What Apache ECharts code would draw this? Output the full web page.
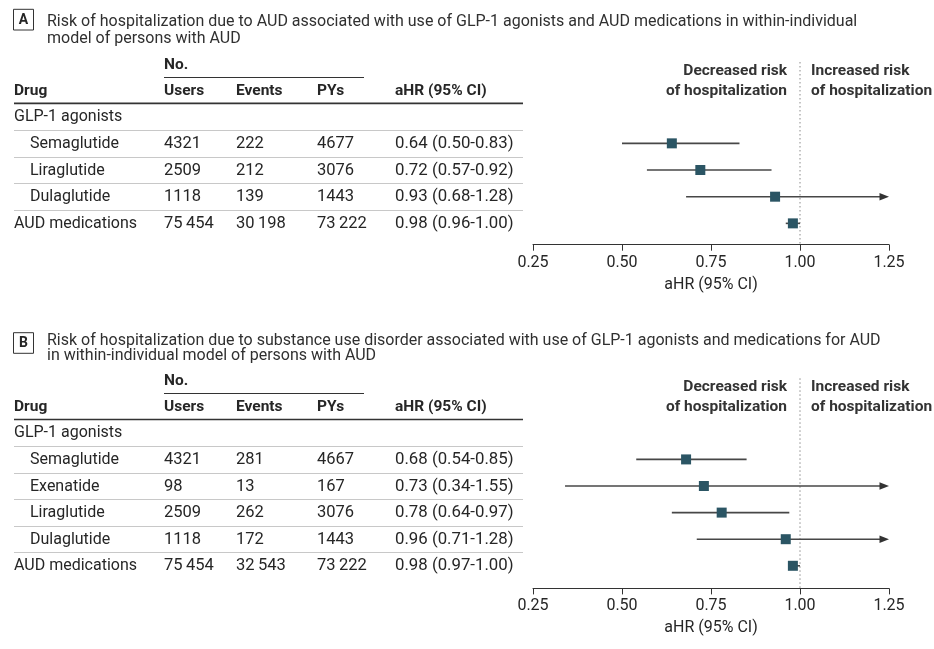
<!DOCTYPE html>
<html><head><meta charset="utf-8">
<script src="https://cdn.jsdelivr.net/npm/echarts@6/dist/echarts.min.js"></script>
<style>html,body{margin:0;padding:0;background:#fff}#c{width:934px;height:649px}</style>
</head><body><div id="c"></div>
<script>
// ---------------- data ----------------
const xTickMin = 0.25, xTickMax = 1.25, xTickStep = 0.25;
const axisTitle = 'aHR (95% CI)';
const colHeaders = ['Drug', 'Users', 'Events', 'PYs', 'aHR (95% CI)'];
const groupLabel = 'GLP-1 agonists';
const decreasedLabel = ['Decreased risk', 'of hospitalization'];
const increasedLabel = ['Increased risk', 'of hospitalization'];

const titleA = ['Risk of hospitalization due to AUD associated with use of GLP-1 agonists and AUD medications in within-individual', 'model of persons with AUD'];
const drugsA = ['Semaglutide', 'Liraglutide', 'Dulaglutide', 'AUD medications'];
const indentA = [true, true, true, false];
const usersA = [4321, 2509, 1118, 75454];
const eventsA = [222, 212, 139, 30198];
const pysA = [4677, 3076, 1443, 73222];
const hrA = [0.64, 0.72, 0.93, 0.98];
const loA = [0.50, 0.57, 0.68, 0.96];
const hiA = [0.83, 0.92, 1.28, 1.00];

const titleB = ['Risk of hospitalization due to substance use disorder associated with use of GLP-1 agonists and medications for AUD', 'in within-individual model of persons with AUD'];
const drugsB = ['Semaglutide', 'Exenatide', 'Liraglutide', 'Dulaglutide', 'AUD medications'];
const indentB = [true, true, true, true, false];
const usersB = [4321, 98, 2509, 1118, 75454];
const eventsB = [281, 13, 262, 172, 32543];
const pysB = [4667, 167, 3076, 1443, 73222];
const hrB = [0.68, 0.73, 0.78, 0.96, 0.98];
const loB = [0.54, 0.34, 0.64, 0.71, 0.97];
const hiB = [0.85, 1.55, 0.97, 1.28, 1.00];

// ---------------- layout / style ----------------
const FONT = 'Roboto';
const TXT = '#262626';
const MARK = '#2b5564';
const CI = '#474747';
const panels = [
  {letter: 'A', title: titleA, drugs: drugsA, indent: indentA, users: usersA, events: eventsA, pys: pysA, hr: hrA, lo: loA, hi: hiA,
   top: 62, height: 182.7, rowMin: -2.05, rowMax: 4.8, boxTop: 9.3, boxH: 20.7, titleY: [21.5, 38.5]},
  {letter: 'B', title: titleB, drugs: drugsB, indent: indentB, users: usersB, events: eventsB, pys: pysB, hr: hrB, lo: loB, hi: hiB,
   top: 378.3, height: 210.1, rowMin: -2.05, rowMax: 5.85, boxTop: 332.7, boxH: 20.6, titleY: [341, 355.5]}
];
const colX = [14, 164, 236, 317, 395];
const indentX = 30;
const tableRight = 523;
const gridLeft = 533, gridWidth = 356;

function fmt(n) {
  const s = String(n);
  if (s.length <= 4) return s;
  return s.replace(/\B(?=(\d{3})+(?!\d))/g, '\u2009');
}
function fmtHR(h, l, u) { return h.toFixed(2) + ' (' + l.toFixed(2) + '-' + u.toFixed(2) + ')'; }

const chart = echarts.init(document.getElementById('c'), null, {renderer: 'canvas'});

const grids = [], xAxes = [], yAxes = [], series = [];
panels.forEach((p, gi) => {
  grids.push({left: gridLeft, width: gridWidth, top: p.top, height: p.height, containLabel: false});
  xAxes.push({
    type: 'value', gridIndex: gi, min: xTickMin, max: xTickMax, interval: xTickStep,
    name: axisTitle, nameLocation: 'middle', nameGap: 32,
    nameTextStyle: {fontFamily: FONT, fontSize: 16, color: TXT},
    axisLine: {show: true, onZero: false, lineStyle: {color: '#333', width: 1}},
    axisTick: {show: true, length: 6, lineStyle: {color: '#333', width: 1}},
    axisLabel: {fontFamily: FONT, fontSize: 16, color: TXT, margin: 10, formatter: v => v.toFixed(2)},
    splitLine: {show: false}
  });
  yAxes.push({type: 'value', gridIndex: gi, inverse: true, min: p.rowMin, max: p.rowMax, show: false, splitLine: {show: false}});
  const data = p.hr.map((h, i) => [p.lo[i], p.hi[i], h, i + 1]);
  series.push({
    type: 'line', xAxisIndex: gi, yAxisIndex: gi, symbol: 'none', silent: true,
    data: [[1, p.rowMin], [1, p.rowMax]],
    lineStyle: {color: '#8a8a8a', width: 1, type: [1.5, 2.5]}, z: 1
  });
  series.push({
    type: 'custom', xAxisIndex: gi, yAxisIndex: gi, data: data, z: 3,
    encode: {x: [0, 1, 2], y: 3},
    renderItem: function (params, api) {
      const lo = api.value(0), hi = api.value(1), h = api.value(2), r = api.value(3);
      const arrow = hi > xTickMax;
      const pL = api.coord([Math.max(lo, xTickMin), r]);
      const pR = api.coord([Math.min(hi, xTickMax), r]);
      const pM = api.coord([h, r]);
      const children = [];
      children.push({type: 'line', shape: {x1: pL[0], y1: pL[1], x2: arrow ? pR[0] - 5 : pR[0], y2: pR[1]},
        style: {stroke: CI, lineWidth: 1.6}});
      if (arrow) {
        children.push({type: 'polygon', shape: {points: [[pR[0], pR[1]], [pR[0] - 9.5, pR[1] - 3.8], [pR[0] - 9.5, pR[1] + 3.8]]},
          style: {fill: '#333'}});
      }
      const s = 10;
      children.push({type: 'rect', shape: {x: pM[0] - s / 2, y: pM[1] - s / 2, width: s, height: s}, style: {fill: MARK}});
      return {type: 'group', children: children};
    }
  });
});

chart.setOption({
  animation: false,
  backgroundColor: '#fff',
  grid: grids, xAxis: xAxes, yAxis: yAxes, series: series
});

// ---------------- table & annotations (positioned via the plot's row scale) ----------------
const graphics = [];
function txt(x, y, text, opt) {
  opt = opt || {};
  graphics.push({type: 'text', x: x, y: y, silent: true, z: 10,
    style: {text: text, fontFamily: FONT, fontSize: opt.size || 16, fontWeight: opt.bold ? 'bold' : 'normal',
      fill: opt.color || TXT, textAlign: opt.align || 'left', textVerticalAlign: 'middle'}});
}
function hline(x1, x2, y, color, w) {
  graphics.push({type: 'line', silent: true, z: 9, shape: {x1: x1, y1: y, x2: x2, y2: y}, style: {stroke: color, lineWidth: w}});
}
panels.forEach((p, gi) => {
  const rowY = r => chart.convertToPixel({gridIndex: gi}, [xTickMin, r])[1];
  const xOf = v => chart.convertToPixel({gridIndex: gi}, [v, 0])[0];
  // title
  graphics.push({type: 'rect', silent: true, shape: {x: 13.5, y: p.boxTop, width: 20, height: p.boxH},
    style: {fill: 'none', stroke: '#333', lineWidth: 1}});
  txt(23.5, p.boxTop + p.boxH / 2 + 0.5, p.letter, {bold: true, size: 14, align: 'center'});
  txt(47, p.titleY[0], p.title[0], {size: 16, color: '#303030'});
  txt(47, p.titleY[1], p.title[1], {size: 16, color: '#303030'});
  // headers
  txt(colX[1], rowY(-1.94), 'No.', {bold: true, size: 15.5});
  hline(colX[1], 364, Math.round(rowY(-1.48)) + 0.5, '#333', 1);
  colHeaders.forEach((h, i) => txt(colX[i], rowY(-0.97), h, {bold: true, size: 15.5}));
  hline(colX[0], tableRight, rowY(-0.5), '#333', 1.6);
  // rows
  txt(colX[0], rowY(0) + 0.5, groupLabel);
  p.drugs.forEach((d, i) => {
    const r = i + 1, y = rowY(r) + 0.5;
    txt(p.indent[i] ? indentX : colX[0], y, d);
    txt(colX[1], y, fmt(p.users[i]), {size: 16.5});
    txt(colX[2], y, fmt(p.events[i]), {size: 16.5});
    txt(colX[3], y, fmt(p.pys[i]), {size: 16.5});
    txt(colX[4], y, fmtHR(p.hr[i], p.lo[i], p.hi[i]), {size: 16.8});
  });
  for (let r = 0; r < p.drugs.length; r++) {
    hline(colX[0], tableRight, Math.round(rowY(r + 0.5)) + 0.5, '#c8c8c8', 1);
  }
  // direction labels
  const x1 = xOf(1);
  txt(x1 - 13, rowY(-1.72), decreasedLabel[0], {bold: true, size: 15.5, align: 'right', color: '#333'});
  txt(x1 - 13, rowY(-0.97), decreasedLabel[1], {bold: true, size: 15.5, align: 'right', color: '#333'});
  txt(x1 + 11, rowY(-1.72), increasedLabel[0], {bold: true, size: 15.5, color: '#333'});
  txt(x1 + 11, rowY(-0.97), increasedLabel[1], {bold: true, size: 15.5, color: '#333'});
});
chart.setOption({graphic: graphics});
</script>
</body></html>
